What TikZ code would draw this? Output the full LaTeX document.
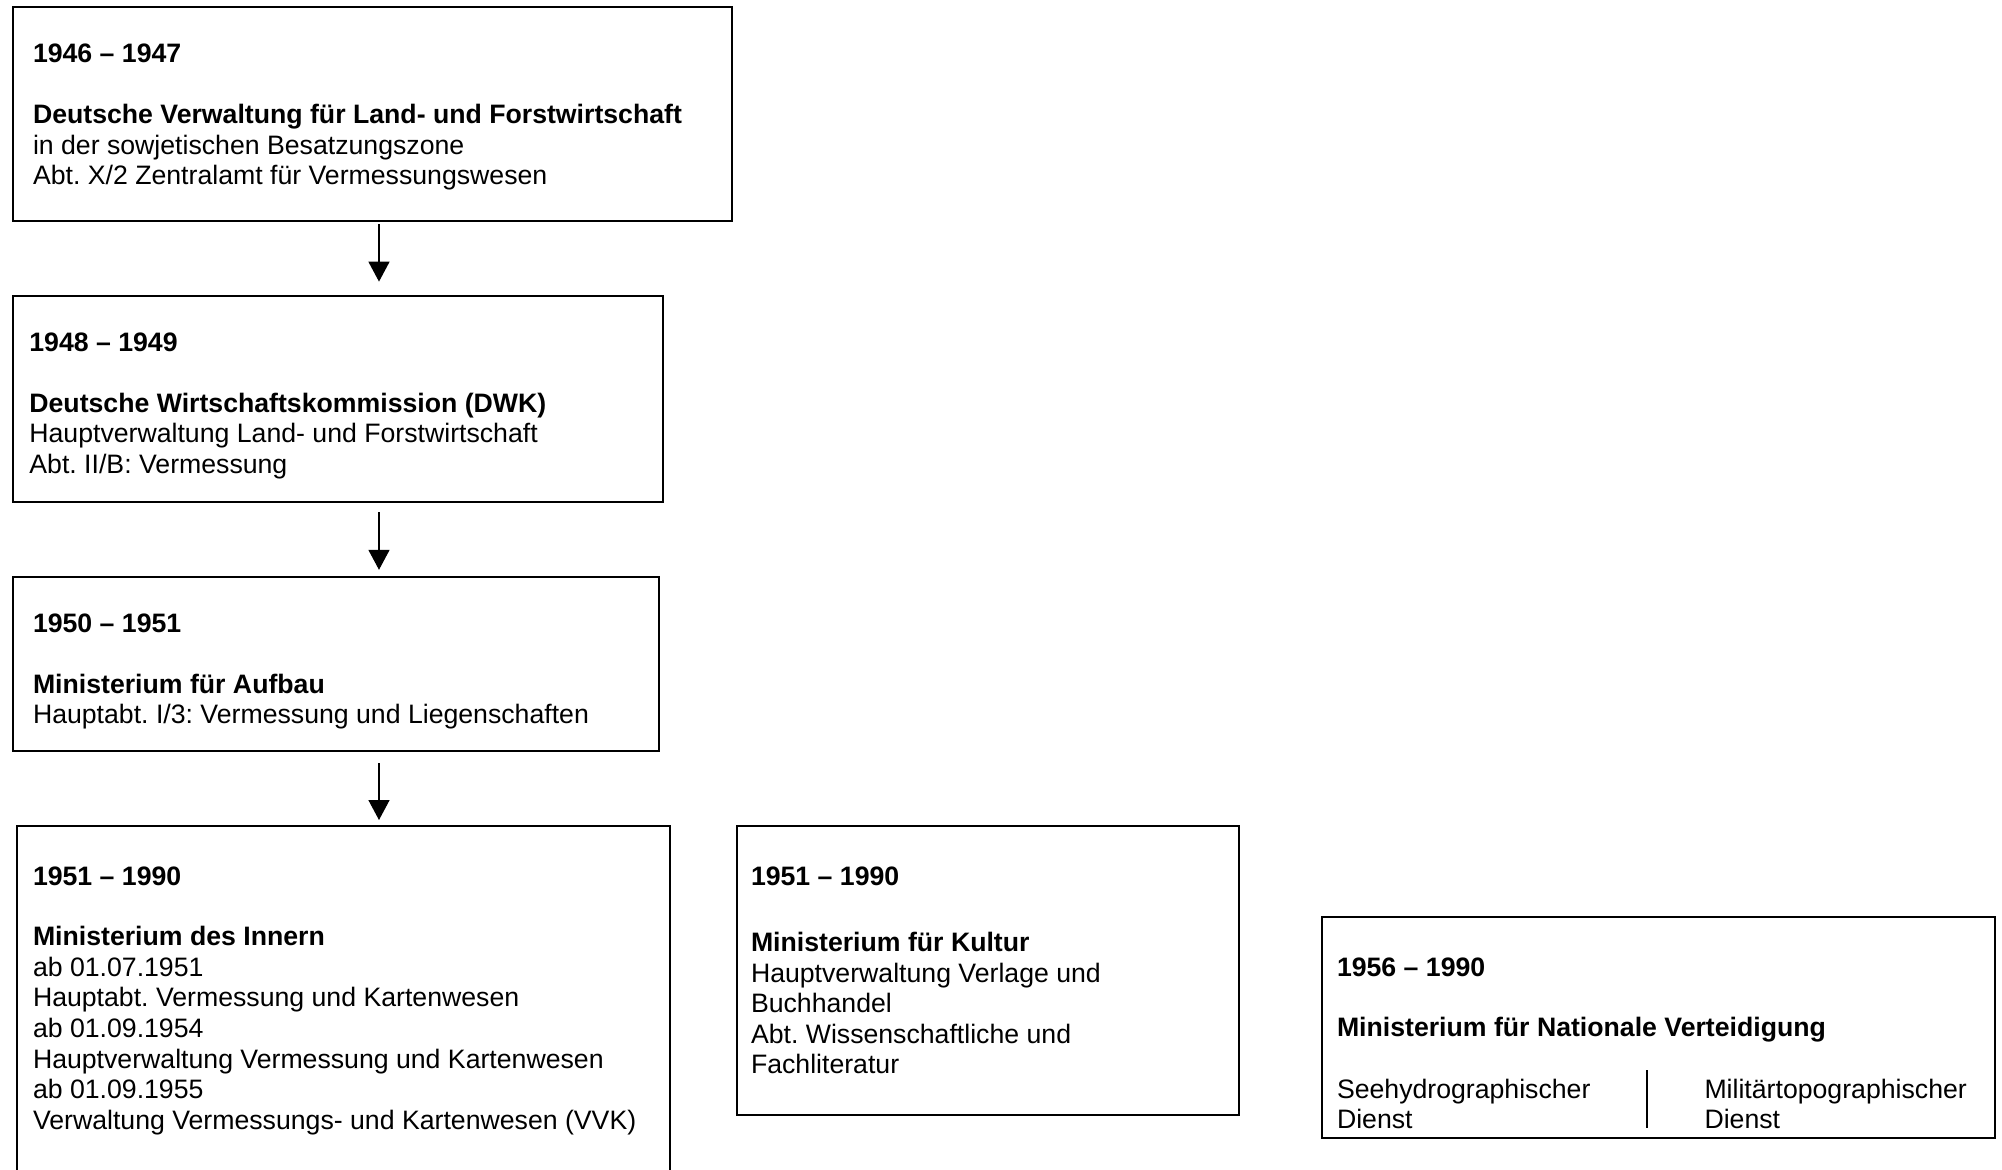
\documentclass[tikz,border=0pt]{standalone}
\usepackage{fontspec}
\setmainfont{Liberation Sans}
\usetikzlibrary{arrows.meta}
\frenchspacing
\def\u{0.375pt}
\tikzset{
  boxnode/.style={draw, line width=0.75pt, anchor=north west, inner sep=0pt, outer sep=0pt},
  txt/.style={anchor=base west, inner sep=0pt, outer sep=0pt, font=\fontsize{10pt}{11.5pt}\selectfont},
  bt/.style={txt, font=\fontsize{10pt}{11.5pt}\selectfont\bfseries},
  arr/.style={line width=0.5pt, -{Triangle[length=7.5pt,width=7.9pt]}}
}
\begin{document}
\begin{tikzpicture}[x=0.375pt,y=-0.375pt]
\useasboundingbox[fill=white] (0,0) rectangle (2002,1170);
% boxes
\node[boxnode, minimum width=719*\u, minimum height=214*\u] (b1) at (13,7) {};
\node[boxnode, minimum width=650*\u, minimum height=206*\u] (b2) at (13,296) {};
\node[boxnode, minimum width=646*\u, minimum height=174*\u] (b3) at (13,577) {};
\node[boxnode, minimum width=653*\u, minimum height=370*\u] (b4) at (17,826) {};
\node[boxnode, minimum width=502*\u, minimum height=289*\u] (b5) at (737,826) {};
\node[boxnode, minimum width=673*\u, minimum height=221*\u] (b6) at (1322,917) {};
% box 1
\node[bt] (t1a) at (33,62.6) {1946 – 1947};
\node[bt] (t1b) at (33,123.8) {Deutsche Verwaltung für Land- und Forstwirtschaft};
\node[txt] (t1c) at (33,154.4) {in der sowjetischen Besatzungszone};
\node[txt] (t1d) at (33,185) {Abt. X/2 Zentralamt für Vermessungswesen};
% box 2
\node[bt] (t2a) at (29.4,351.5) {1948 – 1949};
\node[bt] (t2b) at (29.4,412) {Deutsche Wirtschaftskommission (DWK)};
\node[txt] (t2c) at (29.4,442.6) {Hauptverwaltung Land- und Forstwirtschaft};
\node[txt] (t2d) at (29.4,473.2) {Abt. II/B: Vermessung};
% box 3
\node[bt] (t3a) at (33,632.5) {1950 – 1951};
\node[bt] (t3b) at (33,693.3) {Ministerium für Aufbau};
\node[txt] (t3c) at (33,723.9) {Hauptabt. I/3: Vermessung und Liegenschaften};
% box 4
\node[bt] (t4a) at (33,885) {1951 – 1990};
\node[bt] (t4b) at (33,945.6) {Ministerium des Innern};
\node[txt] (t4c) at (33,976.2) {ab 01.07.1951};
\node[txt] (t4d) at (33,1006.8) {Hauptabt. Vermessung und Kartenwesen};
\node[txt] (t4e) at (33,1037.4) {ab 01.09.1954};
\node[txt] (t4f) at (33,1068) {Hauptverwaltung Vermessung und Kartenwesen};
\node[txt] (t4g) at (33,1098.6) {ab 01.09.1955};
\node[txt] (t4h) at (33,1129.2) {Verwaltung Vermessungs- und Kartenwesen (VVK)};
% box 5
\node[bt] (t5a) at (751,885) {1951 – 1990};
\node[bt] (t5b) at (751,951.5) {Ministerium für Kultur};
\node[txt] (t5c) at (751,982.1) {Hauptverwaltung Verlage und};
\node[txt] (t5d) at (751,1012.7) {Buchhandel};
\node[txt] (t5e) at (751,1043.3) {Abt. Wissenschaftliche und};
\node[txt] (t5f) at (751,1073.9) {Fachliteratur};
% box 6
\node[bt] (t6a) at (1337,976) {1956 – 1990};
\node[bt] (t6b) at (1337,1036.7) {Ministerium für Nationale Verteidigung};
\node[txt] (t6c) at (1337,1098) {Seehydrographischer};
\node[txt] (t6d) at (1337,1128.6) {Dienst};
\node[txt] (t6e) at (1704.5,1098) {Militärtopographischer};
\node[txt] (t6f) at (1704.5,1128.6) {Dienst};
\coordinate (d1) at (1647,1070);
\coordinate (d2) at (1647,1128);
\draw[line width=0.5pt] (d1) -- (d2);
% arrows
\coordinate (col) at (379,0);
\draw[arr, shorten <=1.2pt, shorten >=5.4pt] (col |- b1.south) -- (col |- b2.north);
\draw[arr, shorten <=3.9pt, shorten >=2.7pt] (col |- b2.south) -- (col |- b3.north);
\draw[arr, shorten <=4.5pt, shorten >=2.25pt] (col |- b3.south) -- (col |- b4.north);
\end{tikzpicture}
\end{document}
